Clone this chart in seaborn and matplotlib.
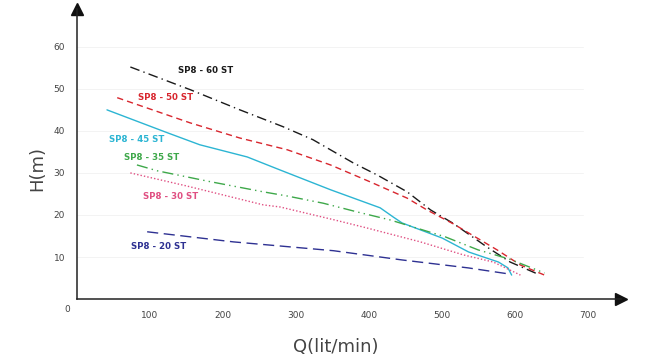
import numpy as np
import pandas as pd
import matplotlib
matplotlib.use("Agg")
import matplotlib.pyplot as plt
import seaborn as sns

# pump curves, Q in lit/min, H in m
q_60 = [73, 155, 223, 282, 323, 378, 411, 452, 484, 515, 561, 593, 630]
h_60 = [55.2, 49.8, 45, 41, 37.9, 32.4, 29.5, 25.5, 21.2, 18, 12.4, 8.8, 6]
q_50 = [55, 155, 223, 288, 347, 401, 452, 479, 515, 575, 607, 640]
h_50 = [47.9, 41.9, 38.3, 35.5, 31.9, 27.9, 24, 21.2, 17.9, 11.7, 8.1, 5.7]
q_45 = [41, 123, 168, 233, 278, 347, 415, 433, 445, 500, 536, 577, 590, 595]
h_45 = [45, 39.6, 36.7, 33.8, 30.7, 26, 21.7, 19.5, 18.1, 14.5, 11.2, 8.8, 7.4, 5.7]
q_35 = [82, 110, 180, 255, 288, 337, 384, 429, 504, 549, 592, 640]
h_35 = [31.9, 30.5, 28, 25.5, 24.5, 22.8, 20.7, 18.8, 14.8, 11.7, 9.5, 6.2]
q_30 = [73, 150, 255, 278, 353, 397, 470, 529, 570, 607]
h_30 = [30, 26.9, 22.4, 21.9, 18.8, 16.9, 13.6, 10.5, 8.8, 5.7]
q_20 = [96, 214, 351, 445, 536, 590]
h_20 = [16, 13.6, 11.5, 9.3, 7.4, 6]

pumps = ["SP8 - 60 ST", "SP8 - 50 ST", "SP8 - 45 ST", "SP8 - 35 ST", "SP8 - 30 ST", "SP8 - 20 ST"]
xticks = [100, 200, 300, 400, 500, 600, 700]
yticks = [10, 20, 30, 40, 50, 60]

colors = {"SP8 - 60 ST": "#1a1a1a", "SP8 - 50 ST": "#d8262e", "SP8 - 45 ST": "#2cb5d3",
          "SP8 - 35 ST": "#3ea84a", "SP8 - 30 ST": "#e04f82", "SP8 - 20 ST": "#2e3192"}
dashes = {"SP8 - 60 ST": (7, 3, 1, 3), "SP8 - 50 ST": (4.5, 3), "SP8 - 45 ST": "",
          "SP8 - 35 ST": (8, 3, 1, 3, 1, 3), "SP8 - 30 ST": (1, 1.5), "SP8 - 20 ST": (8, 4)}

df = pd.concat([
    pd.DataFrame({"Q": q, "H": h, "pump": p})
    for q, h, p in zip([q_60, q_50, q_45, q_35, q_30, q_20],
                       [h_60, h_50, h_45, h_35, h_30, h_20], pumps)
], ignore_index=True)

sns.set_style("white")
fig = plt.figure(figsize=(6.71, 3.59), dpi=100)
ax = fig.add_axes([0.1148, 0.167, 0.811, 0.808])

sns.lineplot(data=df, x="Q", y="H", hue="pump", style="pump", palette=colors,
             dashes=dashes, sort=False, estimator=None, linewidth=1.0,
             legend=False, ax=ax)

# curve labels
lab_pos = {"SP8 - 60 ST": (138, 54.3), "SP8 - 50 ST": (84, 47.9), "SP8 - 45 ST": (44, 37.9),
           "SP8 - 35 ST": (64, 33.6), "SP8 - 30 ST": (90, 24.5), "SP8 - 20 ST": (74, 12.4)}
for p in pumps:
    x, y = lab_pos[p]
    ax.text(x, y, p, color=colors[p], fontsize=6.2, fontweight="bold",
            va="center", ha="left")

ax.set_xlim(0, 745)
ax.set_ylim(0, 69)
ax.set_xticks(xticks)
ax.set_yticks(yticks)
ax.tick_params(labelsize=6.5, labelcolor="#444444", length=2.5, width=0.6,
               color="#888888", pad=6)
for y in yticks:
    ax.plot([0, 693], [y, y], color="#f1f1f1", lw=0.6, zorder=0)

sns.despine(ax=ax)
for side in ["left", "bottom"]:
    ax.spines[side].set_linewidth(1.1)
    ax.spines[side].set_color("#222222")
ax.plot(1, 0, ">", color="#111111", ms=9, transform=ax.get_yaxis_transform(), clip_on=False)
ax.plot(0, 1, "^", color="#111111", ms=9, transform=ax.get_xaxis_transform(), clip_on=False)
ax.text(-14, -2.6, "0", fontsize=6.5, color="#444444", ha="center", va="center")

ax.set_xlabel("")
ax.set_ylabel("")
fig.text(0.5, 0.033, "Q(lit/min)", fontsize=13, color="#444444", ha="center", va="center")
fig.text(0.055, 0.53, "H(m)", fontsize=13, color="#444444", ha="center", va="center",
         rotation=90)

fig.savefig("out.png", dpi=100, facecolor="white")
